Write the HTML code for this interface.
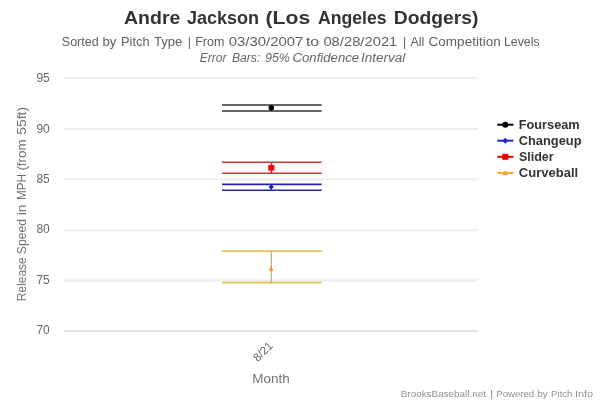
<!DOCTYPE html>
<html><head><meta charset="utf-8"><style>
html,body{margin:0;padding:0;background:#fff;}
body{width:603px;height:402px;overflow:hidden;}
svg{display:block;will-change:transform;font-family:"Liberation Sans",sans-serif;}
</style></head><body>
<svg width="603" height="402" viewBox="0 0 603 402">
<rect x="0" y="0" width="603" height="402" fill="#fff"/>
<!-- title -->
<text x="124.01" y="23.6" font-size="18.3" font-weight="bold" fill="#333" textLength="56.35" lengthAdjust="spacingAndGlyphs">Andre</text>
<text x="186.93" y="23.6" font-size="18.3" font-weight="bold" fill="#333" textLength="72.09" lengthAdjust="spacingAndGlyphs">Jackson</text>
<text x="265.55" y="23.6" font-size="18.3" font-weight="bold" fill="#333" textLength="44.62" lengthAdjust="spacingAndGlyphs">(Los</text>
<text x="317.96" y="23.6" font-size="18.3" font-weight="bold" fill="#333" textLength="68.66" lengthAdjust="spacingAndGlyphs">Angeles</text>
<text x="393.71" y="23.6" font-size="18.3" font-weight="bold" fill="#333" textLength="84.65" lengthAdjust="spacingAndGlyphs">Dodgers)</text>
<text x="61.83" y="46.2" font-size="12" fill="#606060" textLength="36.77" lengthAdjust="spacingAndGlyphs">Sorted</text>
<text x="102.56" y="46.2" font-size="12" fill="#606060" textLength="13.77" lengthAdjust="spacingAndGlyphs">by</text>
<text x="121.05" y="46.2" font-size="12" fill="#606060" textLength="28.48" lengthAdjust="spacingAndGlyphs">Pitch</text>
<text x="154.01" y="46.2" font-size="12" fill="#606060" textLength="28.35" lengthAdjust="spacingAndGlyphs">Type</text>
<text x="187.80" y="46.2" font-size="12" fill="#606060" textLength="3.20" lengthAdjust="spacingAndGlyphs">|</text>
<text x="195.17" y="46.2" font-size="12" fill="#606060" textLength="29.26" lengthAdjust="spacingAndGlyphs">From</text>
<text x="228.72" y="46.2" font-size="12" fill="#606060" textLength="74.63" lengthAdjust="spacingAndGlyphs">03/30/2007</text>
<text x="305.96" y="46.2" font-size="12" fill="#606060" textLength="13.20" lengthAdjust="spacingAndGlyphs">to</text>
<text x="323.42" y="46.2" font-size="12" fill="#606060" textLength="73.90" lengthAdjust="spacingAndGlyphs">08/28/2021</text>
<text x="403.00" y="46.2" font-size="12" fill="#606060" textLength="3.20" lengthAdjust="spacingAndGlyphs">|</text>
<text x="410.48" y="46.2" font-size="12" fill="#606060" textLength="13.86" lengthAdjust="spacingAndGlyphs">All</text>
<text x="428.61" y="46.2" font-size="12" fill="#606060" textLength="72.06" lengthAdjust="spacingAndGlyphs">Competition</text>
<text x="503.99" y="46.2" font-size="12" fill="#606060" textLength="35.66" lengthAdjust="spacingAndGlyphs">Levels</text>
<text x="199.73" y="61.5" font-size="12" font-style="italic" fill="#666" textLength="26.76" lengthAdjust="spacingAndGlyphs">Error</text>
<text x="232.03" y="61.5" font-size="12" font-style="italic" fill="#666" textLength="28.26" lengthAdjust="spacingAndGlyphs">Bars:</text>
<text x="264.97" y="61.5" font-size="12" font-style="italic" fill="#666" textLength="24.96" lengthAdjust="spacingAndGlyphs">95%</text>
<text x="292.47" y="61.5" font-size="12" font-style="italic" fill="#666" textLength="66.72" lengthAdjust="spacingAndGlyphs">Confidence</text>
<text x="361.07" y="61.5" font-size="12" font-style="italic" fill="#666" textLength="44.23" lengthAdjust="spacingAndGlyphs">Interval</text>
<!-- grid -->
<g stroke="#ececec" stroke-width="1.9">
<path d="M64 77.9H477.5"/>
<path d="M64 129H477.5"/>
<path d="M64 179.4H477.5"/>
<path d="M64 230.3H477.5"/>
<path d="M64 280.5H477.5"/>
</g>
<path d="M64 331.1H477.5" stroke="#d2d2d2" stroke-width="1.2"/>
<!-- y labels -->
<g font-size="12" fill="#666" text-anchor="end">
<text x="49.8" y="82.2">95</text>
<text x="49.8" y="132.7">90</text>
<text x="49.8" y="182.8">85</text>
<text x="49.8" y="232.9">80</text>
<text x="49.8" y="283.8">75</text>
<text x="49.8" y="334.3">70</text>
</g>
<g transform="translate(26.1,0) rotate(-90)">
<text x="-301.18" y="0" font-size="12" fill="#707070" textLength="43.91" lengthAdjust="spacingAndGlyphs">Release</text>
<text x="-254.15" y="0" font-size="12" fill="#707070" textLength="35.13" lengthAdjust="spacingAndGlyphs">Speed</text>
<text x="-215.22" y="0" font-size="12" fill="#707070" textLength="10.71" lengthAdjust="spacingAndGlyphs">in</text>
<text x="-200.06" y="0" font-size="12" fill="#707070" textLength="26.01" lengthAdjust="spacingAndGlyphs">MPH</text>
<text x="-170.63" y="0" font-size="12" fill="#707070" textLength="31.32" lengthAdjust="spacingAndGlyphs">(from</text>
<text x="-134.86" y="0" font-size="12" fill="#707070" textLength="27.92" lengthAdjust="spacingAndGlyphs">55ft)</text>
</g>
<!-- x axis -->
<text transform="translate(273.5,346.5) rotate(-45)" font-size="11.5" fill="#666" text-anchor="end">8/21</text>
<text x="252.39" y="382.8" font-size="12" fill="#707070" textLength="37.48" lengthAdjust="spacingAndGlyphs">Month</text>
<!-- error bars -->
<g fill="none">
<path d="M222 104.9H321.7M222 111H321.7" stroke="#666" stroke-width="2"/>
<path d="M271.4 105V111" stroke="#333" stroke-width="1"/>
<path d="M222 162.3H321.7M222 173.3H321.7" stroke="#c43a36" stroke-width="1.4"/>
<path d="M271.4 162.3V173.3" stroke="#e02020" stroke-width="1.4"/>
<path d="M222 184.4H321.7M222 190.3H321.7" stroke="#26269a" stroke-width="1.6"/>
<path d="M271.3 184.4V190.3" stroke="#2020c0" stroke-width="1.2"/>
<path d="M222 251.2H321.7M222 282.7H321.7" stroke="#e6c050" stroke-width="1.7"/>
<path d="M271.3 251.2V282.7" stroke="#c4a444" stroke-width="1.1"/>
</g>
<!-- markers -->
<circle cx="271.3" cy="107.8" r="2.8" fill="#000"/>
<path d="M268.8 106.5L273.8 106.5L271.3 110.9Z" fill="#000"/>
<rect x="268.3" y="165" width="6" height="5.6" fill="#f00"/>
<path d="M271.2 184.4L273.9 187L271.2 189.6L268.5 187Z" fill="#1a1ae0"/>
<path d="M271 264.8L273.2 271.1L268.8 271.1Z" fill="#f0a020"/>
<!-- legend -->
<g stroke-width="2" fill="none">
<path d="M497.3 124.7H513.4" stroke="#000"/>
<path d="M497.3 140.7H513.4" stroke="#2222dd"/>
<path d="M497.3 156.8H513.4" stroke="#ee0000"/>
<path d="M497.3 172.9H513.4" stroke="#f5a623"/>
</g>
<circle cx="505.3" cy="124.7" r="3" fill="#000"/>
<path d="M505.3 137.7L508.2 140.7L505.3 143.7L502.4 140.7Z" fill="#2222dd"/>
<rect x="502.3" y="153.8" width="6" height="6" fill="#ee0000"/>
<path d="M505.4 169.9L508.4 175.3L502.4 175.3Z" fill="#f5a623"/>
<text x="518.75" y="128.8" font-size="12" font-weight="bold" fill="#333" textLength="60.94" lengthAdjust="spacingAndGlyphs">Fourseam</text>
<text x="518.77" y="144.8" font-size="12" font-weight="bold" fill="#333" textLength="62.75" lengthAdjust="spacingAndGlyphs">Changeup</text>
<text x="518.94" y="161" font-size="12" font-weight="bold" fill="#333" textLength="34.75" lengthAdjust="spacingAndGlyphs">Slider</text>
<text x="518.77" y="177.4" font-size="12" font-weight="bold" fill="#333" textLength="59.36" lengthAdjust="spacingAndGlyphs">Curveball</text>
<!-- credits -->
<text x="400.79" y="396.7" font-size="9.2" fill="#909090" textLength="85.18" lengthAdjust="spacingAndGlyphs">BrooksBaseball.net</text>
<text x="490.10" y="396.7" font-size="9.2" fill="#909090" textLength="3.20" lengthAdjust="spacingAndGlyphs">|</text>
<text x="496.31" y="396.7" font-size="9.2" fill="#909090" textLength="37.91" lengthAdjust="spacingAndGlyphs">Powered</text>
<text x="537.16" y="396.7" font-size="9.2" fill="#909090" textLength="10.56" lengthAdjust="spacingAndGlyphs">by</text>
<text x="551.11" y="396.7" font-size="9.2" fill="#909090" textLength="21.31" lengthAdjust="spacingAndGlyphs">Pitch</text>
<text x="574.90" y="396.7" font-size="9.2" fill="#909090" textLength="18.05" lengthAdjust="spacingAndGlyphs">Info</text>
</svg>
</body></html>
